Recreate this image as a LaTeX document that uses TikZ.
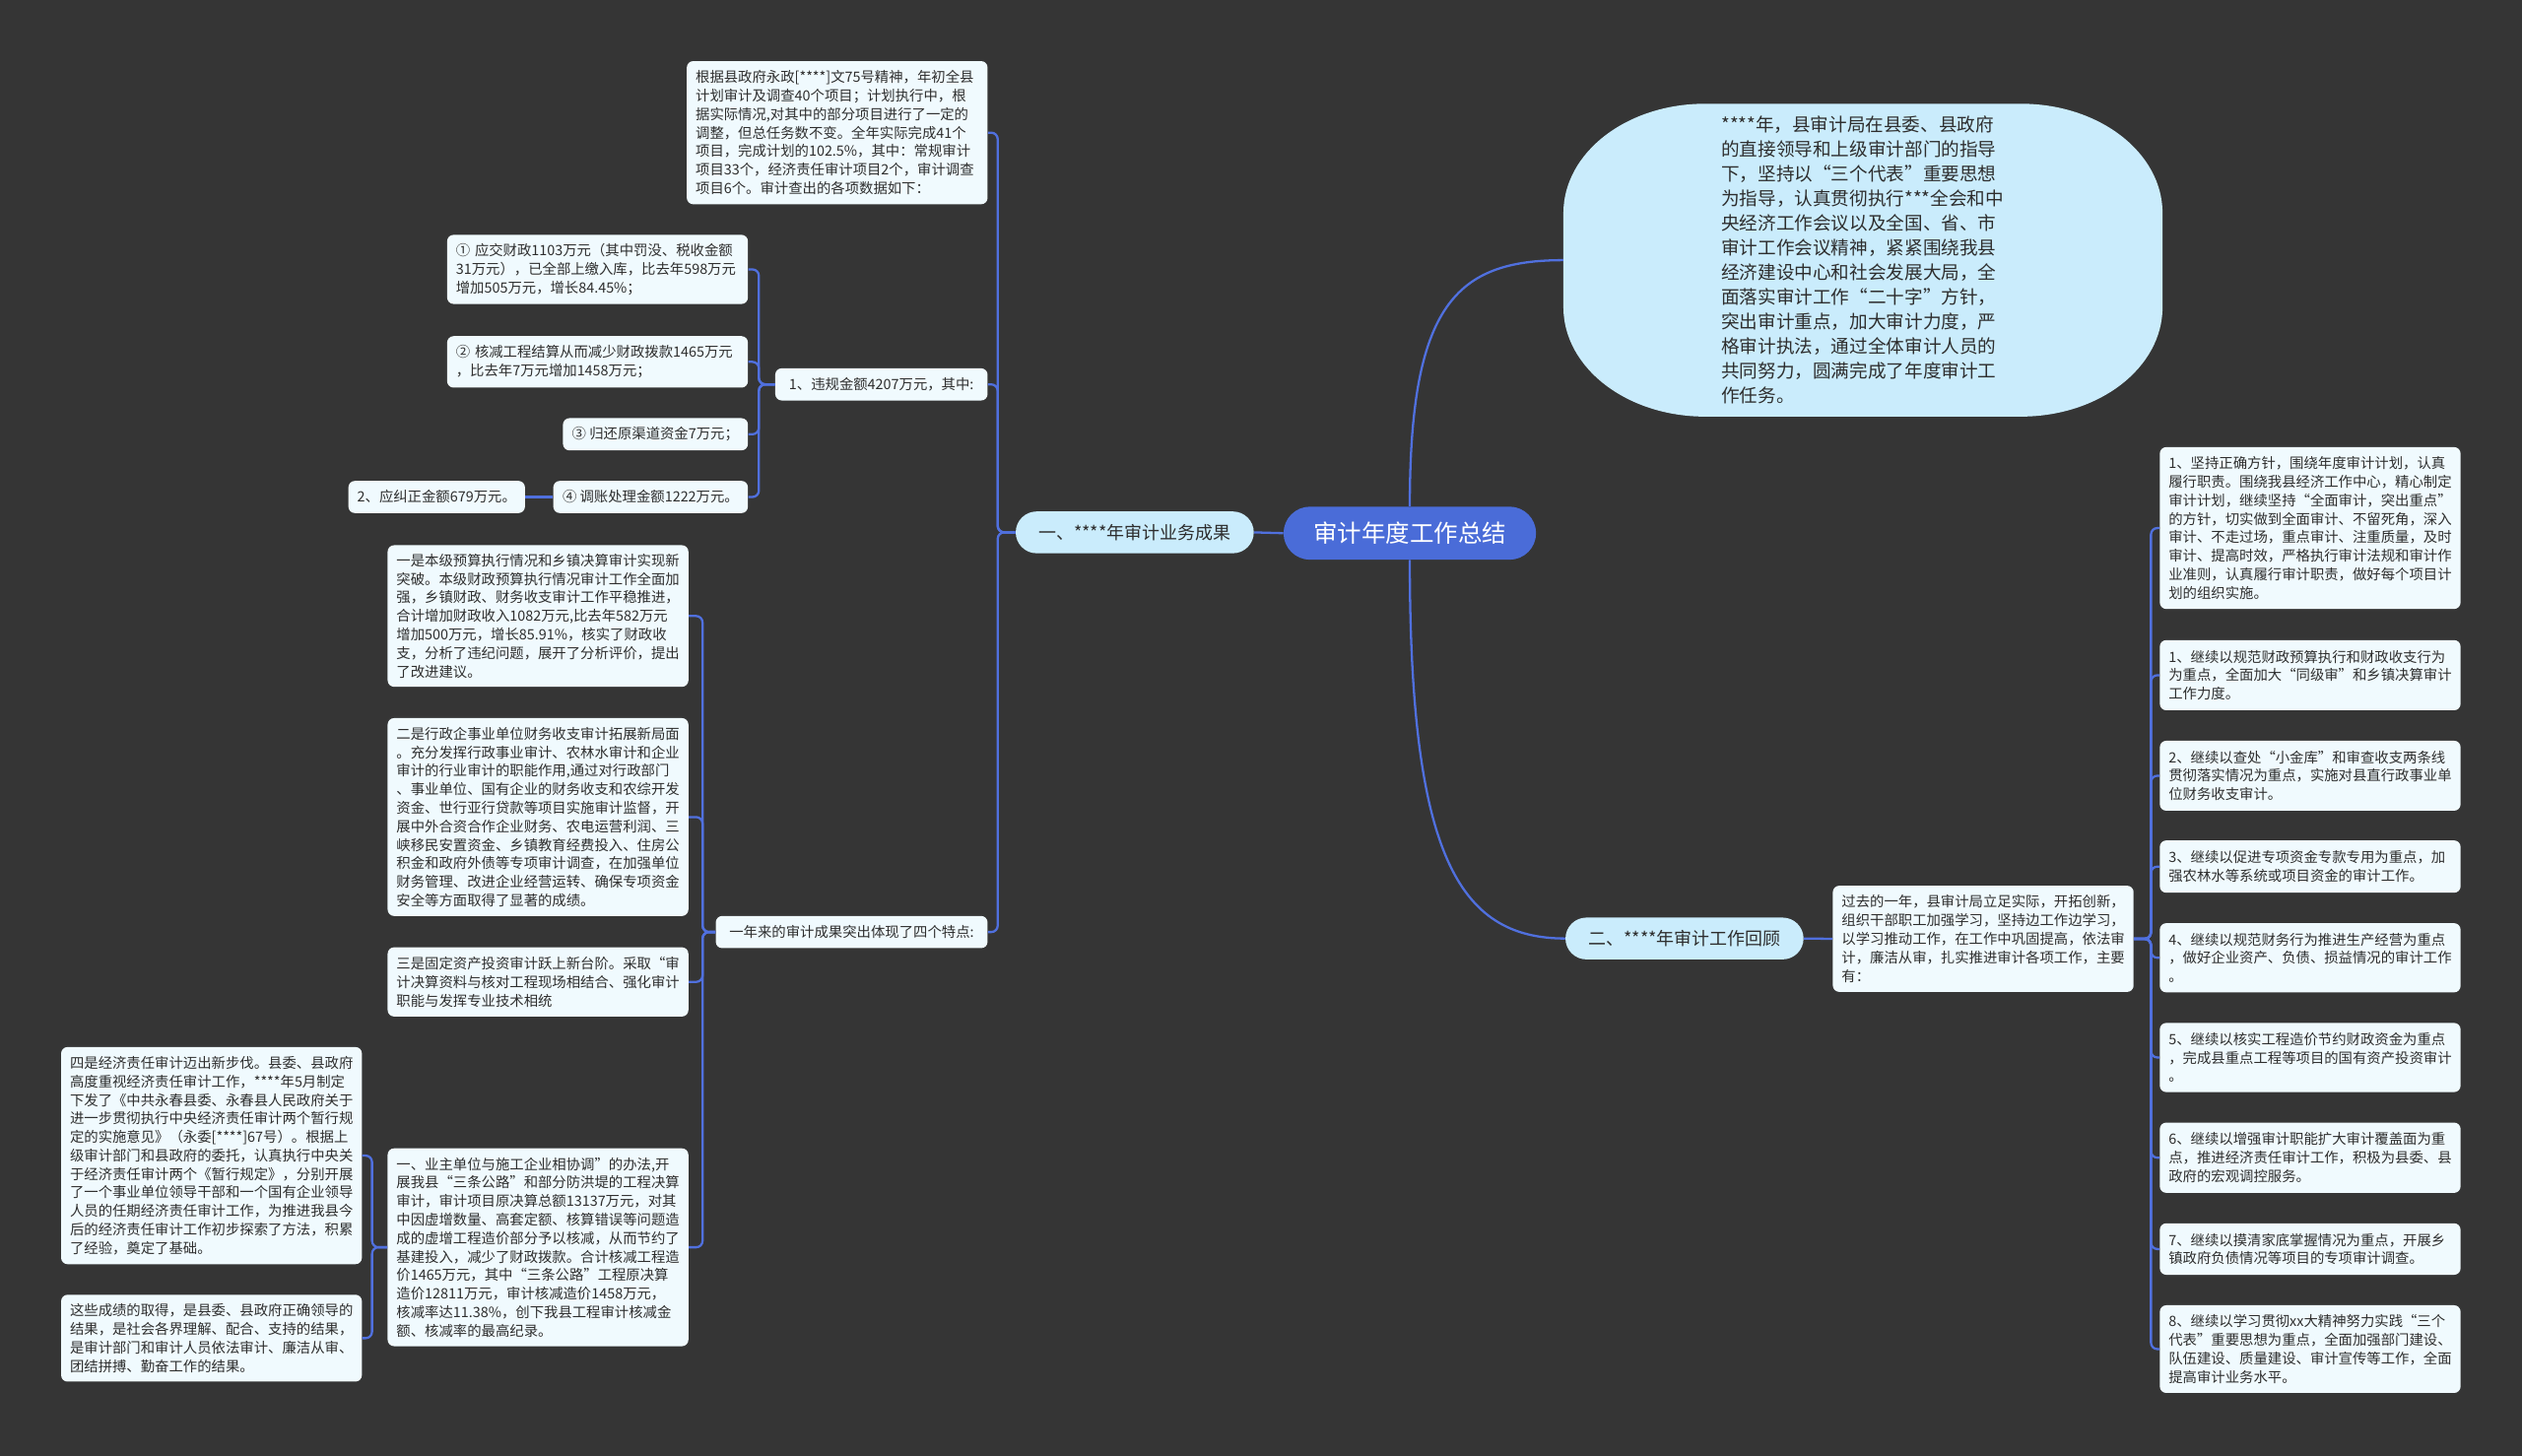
\documentclass[tikz,border=0pt]{standalone}
\usepackage{fontspec}
\setmainfont{Noto Sans CJK SC}
\definecolor{bg}{HTML}{353535}
\definecolor{cblue}{HTML}{4A6CD8}
\definecolor{lineblue}{HTML}{5070DE}
\definecolor{pill}{HTML}{CAECFC}
\definecolor{boxc}{HTML}{F0FAFE}
\definecolor{txt}{HTML}{2E2E2E}
\begin{document}
\begin{tikzpicture}[x=1pt,y=-1pt,
  box/.style={fill=boxc, rounded corners=4pt, inner xsep=5.5pt, inner ysep=0pt,
    align=left, text=txt, font=\fontsize{8.8}{11.5}\selectfont},
  wbox/.style={box, text width=176pt},
  sbox/.style={box, align=center, minimum height=20pt},
  central/.style={fill=cblue, text=white, rounded corners=16.5pt, minimum width=157pt,
    minimum height=33pt, font=\fontsize{15}{18}\selectfont},
  branch/.style={fill=pill, text=txt, rounded corners=13pt, minimum width=148pt,
    minimum height=26pt, font=\fontsize{11}{13}\selectfont},
  conn/.style={draw=lineblue, line width=1.4pt, rounded corners=4pt}
]
\fill[bg] (0,0) rectangle (1568,905);
\useasboundingbox (0,0) rectangle (1568,905);

% central
\node[central] (c) at (876.5,331.5) {审计年度工作总结};

% big rounded summary shape
\fill[pill] (1060,64.5) -- (1256.5,64.5) .. controls (1305.1,64.5) and (1344.5,94.9) .. (1344.5,132.5)
  -- (1344.5,191) .. controls (1344.5,228.6) and (1305.1,259) .. (1256.5,259)
  -- (1060,259) .. controls (1011.4,259) and (972,228.6) .. (972,191)
  -- (972,132.5) .. controls (972,94.9) and (1011.4,64.5) .. (1060,64.5) -- cycle;
\coordinate (ellW) at (972,161.75);
\node[align=left, text=txt, font=\fontsize{11.4}{15.3}\selectfont] (ell) at (1158,161.75) {****年，县审计局在县委、县政府\\
的直接领导和上级审计部门的指导\\
下，坚持以“三个代表”重要思想\\
为指导，认真贯彻执行***全会和中\\
央经济工作会议以及全国、省、市\\
审计工作会议精神，紧紧围绕我县\\
经济建设中心和社会发展大局，全\\
面落实审计工作“二十字”方针，\\
突出审计重点，加大审计力度，严\\
格审计执法，通过全体审计人员的\\
共同努力，圆满完成了年度审计工\\
作任务。};

% branches
\node[branch] (b1) at (705.5,331) {一、****年审计业务成果};
\node[branch] (b2) at (1047.3,583.5) {二、****年审计工作回顾};

% left branch children
\node[wbox, minimum height=89pt] (t1) at (520.5,82.5) {根据县政府永政[****]文75号精神，年初全县\\
计划审计及调查40个项目；计划执行中，根\\
据实际情况,对其中的部分项目进行了一定的\\
调整，但总任务数不变。全年实际完成41个\\
项目，完成计划的102.5\%，其中：常规审计\\
项目33个，经济责任审计项目2个，审计调查\\
项目6个。审计查出的各项数据如下：};
\node[sbox, minimum width=132pt] (v1) at (548,239) {1、违规金额4207万元，其中:};
\node[sbox, minimum width=169pt] (f1) at (529.5,579.5) {一年来的审计成果突出体现了四个特点:};

\node[wbox, minimum height=43pt] (k1) at (371.5,167.5) {① 应交财政1103万元（其中罚没、税收金额\\
31万元），已全部上缴入库，比去年598万元\\
增加505万元，增长84.45\%；};
\node[wbox, minimum height=32pt] (k2) at (371.5,225) {② 核减工程结算从而减少财政拨款1465万元\\
，比去年7万元增加1458万元；};
\node[sbox, minimum width=115pt] (k3) at (407.5,270) {③ 归还原渠道资金7万元；};
\node[sbox, minimum width=121pt] (k4) at (404.5,309) {④ 调账处理金额1222万元。};
\node[sbox, minimum width=109pt] (k5) at (271.5,309) {2、应纠正金额679万元。};

\node[wbox, minimum height=88pt] (s1) at (334.5,383) {一是本级预算执行情况和乡镇决算审计实现新\\
突破。本级财政预算执行情况审计工作全面加\\
强，乡镇财政、财务收支审计工作平稳推进，\\
合计增加财政收入1082万元,比去年582万元\\
增加500万元，增长85.91\%，核实了财政收\\
支，分析了违纪问题，展开了分析评价，提出\\
了改进建议。};
\node[wbox, minimum height=123pt] (s2) at (334.5,508) {二是行政企事业单位财务收支审计拓展新局面\\
。充分发挥行政事业审计、农林水审计和企业\\
审计的行业审计的职能作用,通过对行政部门\\
、事业单位、国有企业的财务收支和农综开发\\
资金、世行亚行贷款等项目实施审计监督，开\\
展中外合资合作企业财务、农电运营利润、三\\
峡移民安置资金、乡镇教育经费投入、住房公\\
积金和政府外债等专项审计调查，在加强单位\\
财务管理、改进企业经营运转、确保专项资金\\
安全等方面取得了显著的成绩。};
\node[wbox, minimum height=43pt] (s3) at (334.5,610.5) {三是固定资产投资审计跃上新台阶。采取“审\\
计决算资料与核对工程现场相结合、强化审计\\
职能与发挥专业技术相统};
\node[wbox, minimum height=123pt] (s4) at (334.5,775.5) {一、业主单位与施工企业相协调”的办法,开\\
展我县“三条公路”和部分防洪堤的工程决算\\
审计，审计项目原决算总额13137万元，对其\\
中因虚增数量、高套定额、核算错误等问题造\\
成的虚增工程造价部分予以核减，从而节约了\\
基建投入，减少了财政拨款。合计核减工程造\\
价1465万元，其中“三条公路”工程原决算\\
造价12811万元，审计核减造价1458万元，\\
核减率达11.38\%，创下我县工程审计核减金\\
额、核减率的最高纪录。};

\node[wbox, minimum height=135pt] (u1) at (131.5,718.5) {四是经济责任审计迈出新步伐。县委、县政府\\
高度重视经济责任审计工作，****年5月制定\\
下发了《中共永春县委、永春县人民政府关于\\
进一步贯彻执行中央经济责任审计两个暂行规\\
定的实施意见》（永委[****]67号）。根据上\\
级审计部门和县政府的委托，认真执行中央关\\
于经济责任审计两个《暂行规定》，分别开展\\
了一个事业单位领导干部和一个国有企业领导\\
人员的任期经济责任审计工作，为推进我县今\\
后的经济责任审计工作初步探索了方法，积累\\
了经验，奠定了基础。};
\node[wbox, minimum height=54pt] (u2) at (131.5,832) {这些成绩的取得，是县委、县政府正确领导的\\
结果，是社会各界理解、配合、支持的结果，\\
是审计部门和审计人员依法审计、廉洁从审、\\
团结拼搏、勤奋工作的结果。};

% right branch children
\node[wbox, minimum height=66pt] (g) at (1233,583.7) {过去的一年，县审计局立足实际，开拓创新，\\
组织干部职工加强学习，坚持边工作边学习，\\
以学习推动工作，在工作中巩固提高，依法审\\
计，廉洁从审，扎实推进审计各项工作，主要\\
有：};
\node[wbox, minimum height=100.6pt] (r0) at (1436.3,328.3) {1、坚持正确方针，围绕年度审计计划，认真\\
履行职责。围绕我县经济工作中心，精心制定\\
审计计划，继续坚持“全面审计，突出重点”\\
的方针，切实做到全面审计、不留死角，深入\\
审计、不走过场，重点审计、注重质量，及时\\
审计、提高时效，严格执行审计法规和审计作\\
业准则，认真履行审计职责，做好每个项目计\\
划的组织实施。};
\node[wbox, minimum height=43.6pt] (r1) at (1436.3,419.8) {1、继续以规范财政预算执行和财政收支行为\\
为重点，全面加大“同级审”和乡镇决算审计\\
工作力度。};
\node[wbox, minimum height=43.5pt] (r2) at (1436.3,482.3) {2、继续以查处“小金库”和审查收支两条线\\
贯彻落实情况为重点，实施对县直行政事业单\\
位财务收支审计。};
\node[wbox, minimum height=32.5pt] (r3) at (1436.3,538.8) {3、继续以促进专项资金专款专用为重点，加\\
强农林水等系统或项目资金的审计工作。};
\node[wbox, minimum height=43pt] (r4) at (1436.3,595.5) {4、继续以规范财务行为推进生产经营为重点\\
，做好企业资产、负债、损益情况的审计工作\\
。};
\node[wbox, minimum height=43pt] (r5) at (1436.3,657.5) {5、继续以核实工程造价节约财政资金为重点\\
，完成县重点工程等项目的国有资产投资审计\\
。};
\node[wbox, minimum height=43.7pt] (r6) at (1436.3,719.8) {6、继续以增强审计职能扩大审计覆盖面为重\\
点，推进经济责任审计工作，积极为县委、县\\
政府的宏观调控服务。};
\node[wbox, minimum height=32pt] (r7) at (1436.3,776.6) {7、继续以摸清家底掌握情况为重点，开展乡\\
镇政府负债情况等项目的专项审计调查。};
\node[wbox, minimum height=54.5pt] (r8) at (1436.3,838.8) {8、继续以学习贯彻xx大精神努力实践“三个\\
代表”重要思想为重点，全面加强部门建设、\\
队伍建设、质量建设、审计宣传等工作，全面\\
提高审计业务水平。};

% connectors
\draw[conn] (c.west) -- (b1.east);
\draw[conn] (c.north) .. controls +(0,-125) and +(-67,0) .. (ellW);
\draw[conn] (c.south) .. controls +(0,182) and +(-67,0) .. (b2.west);
\draw[conn] (b2.east) -- (g.west);
\foreach \ch in {t1,v1,f1} \draw[conn] (b1.west) -- ++(-11,0) |- (\ch.east);
\foreach \ch in {k1,k2,k3,k4} \draw[conn] (v1.west) -- ++(-10,0) |- (\ch.east);
\draw[conn] (k4.west) -- (k5.east);
\foreach \ch in {s1,s2,s3,s4} \draw[conn] (f1.west) -- ++(-8,0) |- (\ch.east);
\foreach \ch in {u1,u2} \draw[conn] (s4.west) -- ++(-9.5,0) |- (\ch.east);
\foreach \ch in {r0,r1,r2,r3,r4,r5,r6,r7,r8} \draw[conn] (g.east) -- ++(10.6,0) |- (\ch.west);
\end{tikzpicture}
\end{document}
